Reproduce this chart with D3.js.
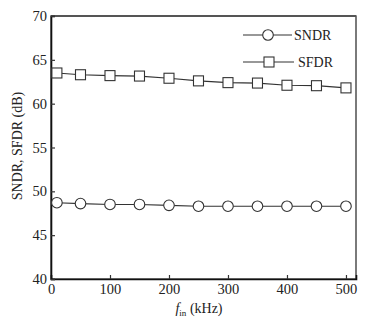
<!DOCTYPE html>
<html><head><meta charset="utf-8">
<script src="https://cdn.jsdelivr.net/npm/d3@7"></script>
<style>body{margin:0;background:#fff}svg{display:block}</style>
</head><body><svg id="c" width="365" height="320"></svg>
<script>
const freqs = [10, 50, 100, 150, 200, 250, 300, 350, 400, 450, 500];
const sndr = [48.7, 48.6, 48.5, 48.5, 48.4, 48.3, 48.3, 48.3, 48.3, 48.3, 48.3];
const sfdr = [63.5, 63.3, 63.2, 63.15, 62.9, 62.6, 62.4, 62.35, 62.1, 62.05, 61.8];
const xTicks = [0, 100, 200, 300, 400, 500];
const yTicks = [40, 45, 50, 55, 60, 65, 70];
const seriesNames = ["SNDR", "SFDR"];

const FONT = "'Liberation Serif', 'Times New Roman', Times, serif";
const svg = d3.select("#c").style("font-family", FONT);
const L = 51, R = 356, T = 16, B = 279;
const x = d3.scaleLinear().domain([0, 517]).range([L, R]);
const y = d3.scaleLinear().domain([40, 70]).range([B, T]);
const col = "#333";

svg.append("rect").attr("x", L).attr("y", T).attr("width", R - L).attr("height", B - T)
  .attr("fill", "none").attr("stroke", col).attr("stroke-width", 1.3);
svg.append("line").attr("x1", L).attr("x2", R).attr("y1", T).attr("y2", T)
  .attr("stroke", "#555").attr("stroke-width", 2);

const xa = svg.append("g").attr("transform", `translate(0,${B})`)
  .call(d3.axisBottom(x).tickValues(xTicks).tickSize(-4).tickPadding(6).tickFormat(d3.format("d")));
const ya = svg.append("g").attr("transform", `translate(${L},0)`)
  .call(d3.axisLeft(y).tickValues(yTicks).tickSize(-4).tickPadding(4).tickFormat(d3.format("d")));
[xa, ya].forEach(g => {
  g.attr("font-family", null).attr("font-size", null);
  g.select(".domain").attr("stroke", "#111").attr("stroke-width", 1.6);
  g.selectAll(".tick line").attr("stroke", col).attr("stroke-width", 1.2);
  g.selectAll(".tick text").style("font-family", FONT).style("font-size", "14.5px").attr("fill", "#222");
});
xa.selectAll(".tick text").attr("dy", "0.6em");

const line = d3.line().x((d, i) => x(freqs[i])).y(d => y(d));
svg.append("path").datum(sfdr).attr("d", line).attr("fill", "none").attr("stroke", col).attr("stroke-width", 1.2);
svg.append("path").datum(sndr).attr("d", line).attr("fill", "none").attr("stroke", col).attr("stroke-width", 1.2);

svg.append("g").selectAll("circle").data(sndr).join("circle")
  .attr("cx", (d, i) => x(freqs[i])).attr("cy", d => y(d)).attr("r", 5.3)
  .attr("fill", "#fff").attr("stroke", col).attr("stroke-width", 1.1);
svg.append("g").selectAll("rect").data(sfdr).join("rect")
  .attr("x", (d, i) => x(freqs[i]) - 5).attr("y", d => y(d) - 5)
  .attr("width", 10).attr("height", 10)
  .attr("fill", "#fff").attr("stroke", col).attr("stroke-width", 1.1);

const lg = svg.append("g");
const ly = [35, 62];
seriesNames.forEach((n, i) => {
  lg.append("line").attr("x1", 243).attr("x2", i === 0 ? 292 : 294).attr("y1", ly[i]).attr("y2", ly[i])
    .attr("stroke", col).attr("stroke-width", 1.2);
  if (i === 0) lg.append("circle").attr("cx", 268).attr("cy", ly[i]).attr("r", 5.3)
    .attr("fill", "#fff").attr("stroke", col).attr("stroke-width", 1.1);
  else lg.append("rect").attr("x", 264).attr("y", ly[i] - 5).attr("width", 10).attr("height", 10)
    .attr("fill", "#fff").attr("stroke", col).attr("stroke-width", 1.1);
  lg.append("text").attr("x", i === 0 ? 294 : 298).attr("y", ly[i] + 5)
    .style("font-family", FONT).style("font-size", "14px").attr("fill", "#222").text(n);
});

svg.append("text").attr("transform", "translate(22,146) rotate(-90)").attr("text-anchor", "middle")
  .style("font-family", FONT).style("font-size", "14px").attr("fill", "#222").text("SNDR, SFDR (dB)");
const xl = svg.append("text").attr("x", 199).attr("y", 313).attr("text-anchor", "middle")
  .style("font-family", FONT).style("font-size", "14px").attr("fill", "#222");
xl.append("tspan").attr("font-style", "italic").text("f");
xl.append("tspan").style("font-size", "9px").attr("dy", 3).text("in");
xl.append("tspan").attr("dy", -3).text(" (kHz)");
</script></body></html>
